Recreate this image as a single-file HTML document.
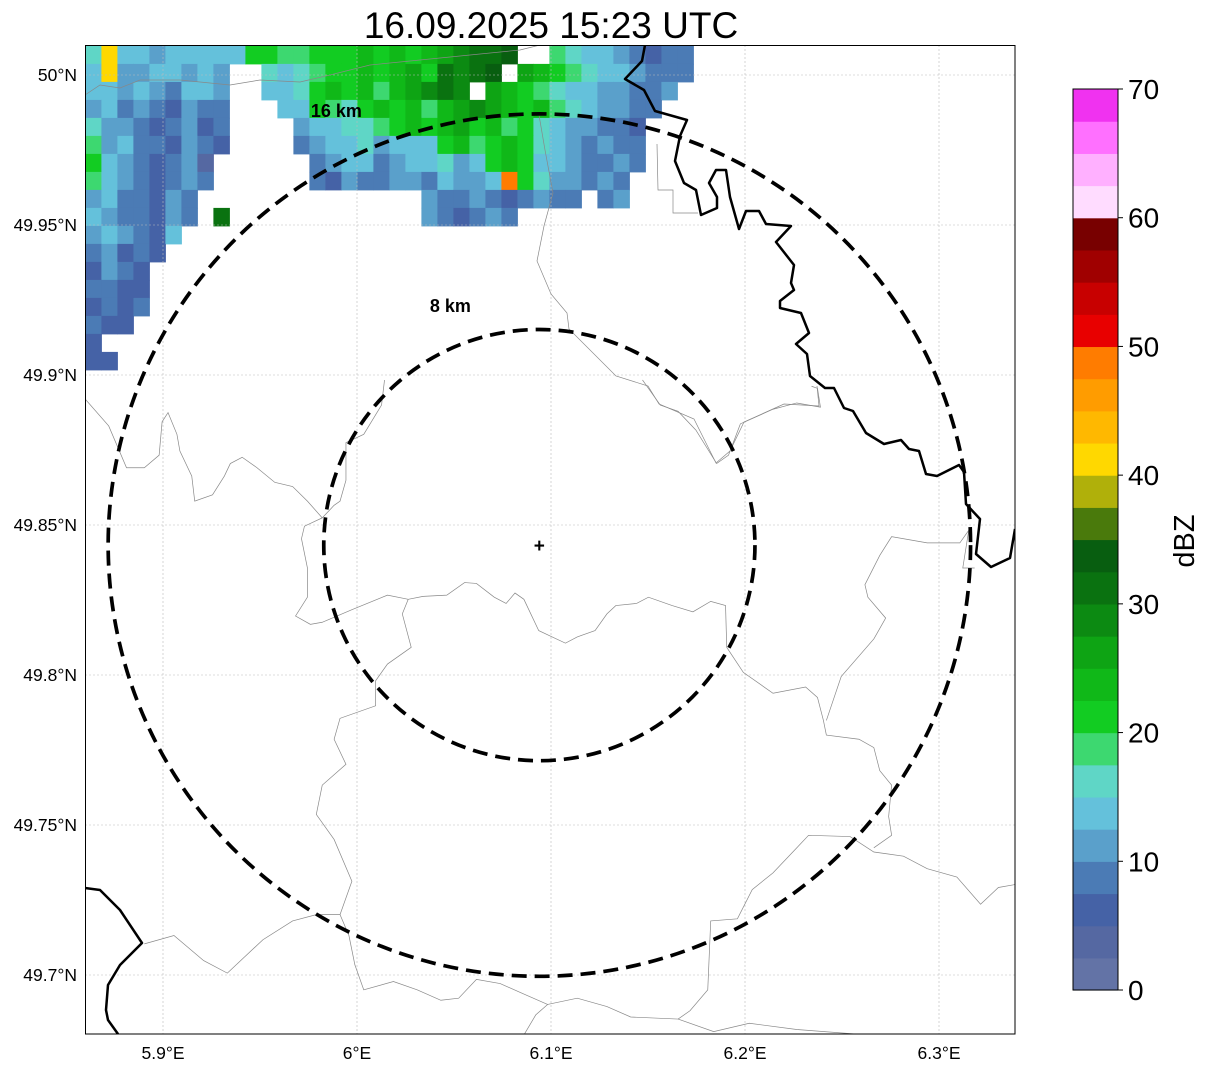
<!DOCTYPE html>
<html><head><meta charset="utf-8">
<style>
html,body{margin:0;padding:0;background:#fff;}
svg{display:block;font-family:"Liberation Sans","DejaVu Sans",sans-serif;}
</style></head>
<body>
<svg id="chart" width="1207" height="1069" viewBox="0 0 1207 1069" xmlns="http://www.w3.org/2000/svg">
<defs><clipPath id="mapclip"><rect x="85" y="45" width="930" height="989"/></clipPath></defs>
<rect x="0" y="0" width="1207" height="1069" fill="#fff"/>
<text x="551" y="38" font-size="37" text-anchor="middle" fill="#000">16.09.2025 15:23 UTC</text>
<g id="map" clip-path="url(#mapclip)">
  <g id="rain"></g>
  <g id="grid"></g>
  <g id="thin"></g>
  <g id="thick"></g>
  <g id="rings"></g>
</g>
<rect x="85.5" y="45.5" width="929.5" height="988.5" fill="none" stroke="#000" stroke-width="1"/>
<g id="yticks"></g>
<g id="xticks"></g>
<g id="cbar"></g>
<text transform="translate(1194,541) rotate(-90)" font-size="29" text-anchor="middle" fill="#000">dBZ</text>
</svg>
<script>
// ---- data ----
const latTicks = [50, 49.95, 49.9, 49.85, 49.8, 49.75, 49.7];
const latLabels = ["50°N","49.95°N","49.9°N","49.85°N","49.8°N","49.75°N","49.7°N"];
const lonTicks = [5.9, 6.0, 6.1, 6.2, 6.3];
const lonLabels = ["5.9°E","6°E","6.1°E","6.2°E","6.3°E"];
const cbarTicks = [0,10,20,30,40,50,60,70];
const cbarColors = ["#6373a6","#5568a2","#4562a6","#4b7bb5","#5aa0cb","#64c1db","#5fd6c6","#3dd870","#12cc22","#10b818","#0ea414","#0c8a12","#0a7210","#085e10","#4a7a0c","#b0b00a","#ffd800","#ffb800","#ff9c00","#ff7c00","#e80000","#c80000","#a00000","#780000","#ffdcff","#ffb0ff","#ff70ff","#f032f0"];
const radarLon = 6.094;
const radarLat = 49.8433;
const ringKm = [8, 16];
const ringLabels = ["8 km", "16 km"];
// reflectivity grid rows (band index chars; '.' = no echo), cell size 0.00825° lon x 0.006° lat from 5.86E / 50.0097N
const rainRows = [
"7H665666669988999A9A9ABCDDE..876654344",
"6H5566565..767899A9AB9DCDE.BA987665444",
"665654665..6679A9A8ABCDC.BA9876655445.",
"564543544...669879A9A8ABCBA9A8765544..",
"755434534....5667789A9AB9A897655443...",
"856443543....4566756669A89A97654544...",
"96543452......456645667569A96654454...",
"86543454......435445546556K9755454....",
"5644354..............5445434544.45....",
"6544354.D............543454...........",
"565436................................",
"45343.................................",
"3543..................................",
"4433..................................",
"3434..................................",
"433...................................",
"3.....................................",
"33...................................."
];
const bandChars = "123456789ABCDEFGHIJK";

// ---- axes ----
const X = lon => 551 + (lon - 6.1) * 1940;
const Y = lat => 525 - (lat - 49.85) * 3000;
const NS = "http://www.w3.org/2000/svg";
function mk(tag, attrs, parent){ const e=document.createElementNS(NS,tag); for(const k in attrs) e.setAttribute(k,attrs[k]); parent.appendChild(e); return e; }

// rain
const rainG = document.getElementById('rain');
const lon0 = 5.86, lat0 = 50.0097, dLon = 16/1940, dLat = 18/3000;
rainRows.forEach((row, r) => {
  for (let c = 0; c < row.length; c++) {
    const ch = row[c]; if (ch === '.') continue;
    const b = bandChars.indexOf(ch); if (b < 0) continue;
    const x1 = X(lon0 + c*dLon), x2 = X(lon0 + (c+1)*dLon);
    const y1 = Y(lat0 - r*dLat), y2 = Y(lat0 - (r+1)*dLat);
    const el = mk('rect', {x:x1, y:y1, width:x2-x1+0.5, height:y2-y1+0.5, fill:cbarColors[b]}, rainG);
    
    
  }
});

// grid
const gridG = document.getElementById('grid');
lonTicks.forEach(v => { const l = mk('line',{x1:X(v),x2:X(v),y1:45,y2:1034,stroke:'#bbb','stroke-width':0.6,'stroke-dasharray':'2,2'},gridG);
    });
latTicks.forEach(v => { const l = mk('line',{x1:85,x2:1015,y1:Y(v),y2:Y(v),stroke:'#bbb','stroke-width':0.6,'stroke-dasharray':'2,2'},gridG);
    });

// thin admin boundaries (zoom-space coordinates)
const thinG = document.getElementById('thin');
const lowerLines = [
"0,45 40,110 70,210 100,210 125,180 130,100 140,78 155,130 160,170 180,230 185,290 215,275 235,230 245,200 265,185 290,210 320,245 350,255 375,290 400,330 370,350 365,380 375,450 375,520 355,565 380,585 400,580 450,550 510,515 545,525 570,518 610,515 640,485 660,487 690,520 710,535 725,510 740,525 765,600 810,630 830,615 860,600 880,560 895,540 930,535 950,520 990,540 1025,555 1055,530 1080,540 1082,640 1110,700 1160,750 1215,735 1235,760 1245,815 1250,850 1305,860 1330,880 1340,935 1360,970 1355,1045 1360,1090 1330,1120",
"400,330 420,300 430,290 440,240 440,150 470,130 500,60 505,0",
"545,525 535,560 550,640 510,680 490,720 490,780 430,810 420,860 440,920 400,970 390,1040 420,1100 450,1200 430,1280 390,1280 350,1295 300,1340 240,1420 200,1390 150,1330 100,1350",
"430,1280 445,1330 455,1400 470,1460 520,1440 560,1460 600,1485 630,1480 660,1435 700,1445 740,1470 780,1495 760,1520 740,1568",
"780,1495 830,1480 880,1500 920,1525 1000,1530 1020,1510 1050,1460 1055,1295 1100,1290 1125,1220 1160,1180 1200,1120 1220,1090 1290,1093 1330,1130 1380,1140 1420,1170 1470,1190 1510,1255 1540,1215 1568,1208",
"1000,1530 1060,1560 1120,1540 1200,1555 1320,1568",
"1250,815 1275,710 1330,620 1350,570 1320,520 1315,490 1340,420 1360,375 1420,390 1475,390 1490,360 1480,450 1500,450",
"940,0 970,60 1000,75 1030,120 1065,200 1085,180 1105,105 1160,70 1200,55 1240,65 1235,20 1225,15"
];
const lg = mk('g',{transform:'translate(85,380) scale(0.5931,0.4177)'},thinG);
lowerLines.forEach(p => { const e = mk('polyline',{points:p,fill:'none',stroke:'#888','stroke-width':0.7,'vector-effect':'non-scaling-stroke'},lg);
    });
const upperLines = [
"539,115 545,150 553,193 544,226 537,261 551,294 567,313 569,329 616,376 648,386 659,404 694,419 716,463 730,451 744,422 784,404 819,406 817,386",
"657,144 658,190 673,190 673,213 698,213",
"85,95 100,85 120,88 140,80 180,80 230,85 260,80 300,82 330,75 370,65 420,60 470,55 520,50 540,45"
];
upperLines.forEach(p => { const e = mk('polyline',{points:p,fill:'none',stroke:'#888','stroke-width':0.7},thinG);
    });

// thick borders
const thickG = document.getElementById('thick');
const thickLines = [
"645,45 642,61 625,79 644,90 655,111 687,120 680,136 675,161 684,183 696,190 701,215 717,208 717,197 709,183 716,170 726,170 730,197 739,229 746,211 759,211 766,224 791,226 776,242 794,265 791,283 794,290 780,301 780,308 801,313 809,333 796,344 807,354 810,376 825,388 834,388 844,408 853,411 866,433 884,444 901,440 909,449 919,451 926,474 937,476 959,465 964,472 966,504 980,519 976,554 991,567 1010,558 1015,529",
"85,888 100,890 120,910 142,943 120,965 108,985 106,1010 108,1020 118,1034"
];
thickLines.forEach(p => { const e = mk('polyline',{points:p,fill:'none',stroke:'#000','stroke-width':2.5,'stroke-linejoin':'round'},thickG);
    });

// rings
const ringsG = document.getElementById('rings');
const cx = X(radarLon), cy = Y(radarLat), pxPerKm = 26.95;
const ringLabelDx = [-89, -203];
const ringLabelDy = [-233, -428];
ringKm.forEach((km, i) => {
  const c = mk('circle',{cx:cx, cy:cy, r:km*pxPerKm, fill:'none', stroke:'#000','stroke-width':3.7,'stroke-dasharray':'15,8'},ringsG);
  
  
  const t = mk('text',{x:cx + ringLabelDx[i], y:cy + ringLabelDy[i], 'font-size':18,'font-weight':'bold','text-anchor':'middle'},ringsG);
  t.textContent = ringLabels[i];
  
  
});
const cross = mk('text',{x:cx, y:cy+7, 'font-size':19,'font-weight':'bold','text-anchor':'middle'},ringsG);
cross.textContent = '+';



// ticks
const yg = document.getElementById('yticks');
latTicks.forEach((v,i) => { const t = mk('text',{x:77,y:Y(v)+6,'font-size':17.5,'text-anchor':'end'},yg); t.textContent = latLabels[i];
    });
const xg = document.getElementById('xticks');
lonTicks.forEach((v,i) => { const t = mk('text',{x:X(v),y:1059,'font-size':17.5,'text-anchor':'middle'},xg); t.textContent = lonLabels[i];
    });

// colorbar
const cg = document.getElementById('cbar');
const cbTop = 89, cbBot = 990, cbX = 1073, cbW = 45;
const bandH = (cbBot - cbTop) / cbarColors.length;
cbarColors.forEach((col,i) => { const r = mk('rect',{x:cbX, y:cbBot-(i+1)*bandH, width:cbW, height:bandH+0.6, fill:col},cg);
    });
mk('rect',{x:cbX,y:cbTop,width:cbW,height:cbBot-cbTop,fill:'none',stroke:'#000','stroke-width':1},cg);
const vY = v => cbBot - v/70*(cbBot-cbTop);
cbarTicks.forEach(v => {
  mk('line',{x1:cbX+cbW,x2:cbX+cbW+5,y1:vY(v),y2:vY(v),stroke:'#000','stroke-width':1},cg);
  const t = mk('text',{x:cbX+cbW+10,y:vY(v)+10,'font-size':28},cg); t.textContent = v;
   
});
</script>
</body></html>
